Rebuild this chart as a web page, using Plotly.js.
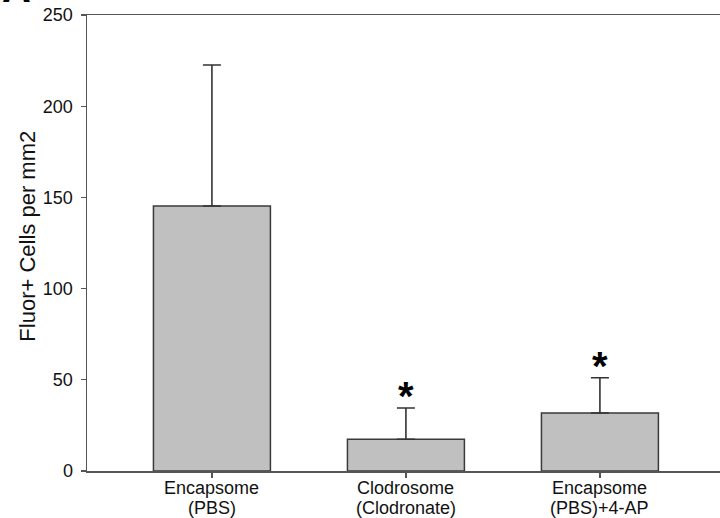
<!DOCTYPE html>
<html>
<head>
<meta charset="utf-8">
<script src="https://cdn.plot.ly/plotly-3.0.1.min.js"></script>
<style>html,body{margin:0;padding:0;background:#fff;}#chart{width:720px;height:518px;}</style>
</head>
<body>
<div id="chart"></div>
<script>
const categories = ["Encapsome (PBS)", "Clodrosome (Clodronate)", "Encapsome (PBS)+4-AP"];
const labelLine1 = ["Encapsome", "Clodrosome", "Encapsome"];
const labelLine2 = ["(PBS)", "(Clodronate)", "(PBS)+4-AP"];
const means = [145.3, 17.4, 31.8];
const errPlus = [77.3, 17.1, 19.3];
const significant = [false, true, true];
const yTicks = [0, 50, 100, 150, 200, 250];

const FONT = "Liberation Sans, Arial, sans-serif";

const trace = {
  type: "bar",
  x: categories,
  y: means,
  width: 0.603,
  marker: {color: "#c0c0c0", line: {color: "#3a3a3a", width: 1.5}},
  error_y: {type: "data", symmetric: false, array: errPlus, arrayminus: means.map(() => 0),
            color: "#333", thickness: 1.6, width: 9},
  hoverinfo: "none"
};

const annotations = [];
categories.forEach((c, i) => {
  if (significant[i]) {
    annotations.push({x: c, y: means[i] + errPlus[i], xref: "x", yref: "y",
      text: "<b>*</b>", showarrow: false, yanchor: "bottom", yshift: -12,
      font: {family: FONT, size: 40, color: "#000"}});
  }
  annotations.push({x: c, y: 0, xref: "x", yref: "y", text: labelLine1[i], showarrow: false,
    xanchor: "center", yanchor: "middle", yshift: -17, font: {family: FONT, size: 18, color: "#111"}});
  annotations.push({x: c, y: 0, xref: "x", yref: "y", text: labelLine2[i], showarrow: false,
    xanchor: "center", yanchor: "middle", yshift: -37, font: {family: FONT, size: 18, color: "#111"}});
});
annotations.push({xref: "paper", yref: "paper", x: -0.137, y: 1.0, xanchor: "left", yanchor: "bottom",
  yshift: 3, text: "<b>A</b>", showarrow: false,
  font: {family: FONT, size: 40, color: "#000"}});
annotations.push({xref: "paper", yref: "paper", x: -0.094, y: 0.515, xanchor: "center", yanchor: "middle",
  textangle: -90, text: "Fluor+ Cells per mm2", showarrow: false,
  font: {family: FONT, size: 22, color: "#111"}});

const layout = {
  width: 720, height: 518,
  margin: {l: 87, r: 0, t: 15, b: 47},
  paper_bgcolor: "#fff", plot_bgcolor: "#fff",
  showlegend: false,
  font: {family: FONT, color: "#111"},
  xaxis: {
    type: "category", range: [-0.644, 2.619],
    showline: true, linecolor: "#555", linewidth: 1.5, mirror: true,
    ticks: "outside", ticklen: 5, tickcolor: "#555", tickwidth: 1.2,
    showticklabels: false, showgrid: false, zeroline: false, fixedrange: true
  },
  yaxis: {
    range: [0, 250], tickvals: yTicks, ticktext: yTicks.map(String),
    showline: true, linecolor: "#555", linewidth: 1.5,
    ticks: "outside", ticklen: 5, tickcolor: "#555", tickwidth: 1.2, ticklabelstandoff: 4,
    tickfont: {size: 18, color: "#111"}, showgrid: false, zeroline: false
  },
  annotations: annotations
};

Plotly.newPlot("chart", [trace], layout, {displayModeBar: false, staticPlot: true});
</script>
</body>
</html>
